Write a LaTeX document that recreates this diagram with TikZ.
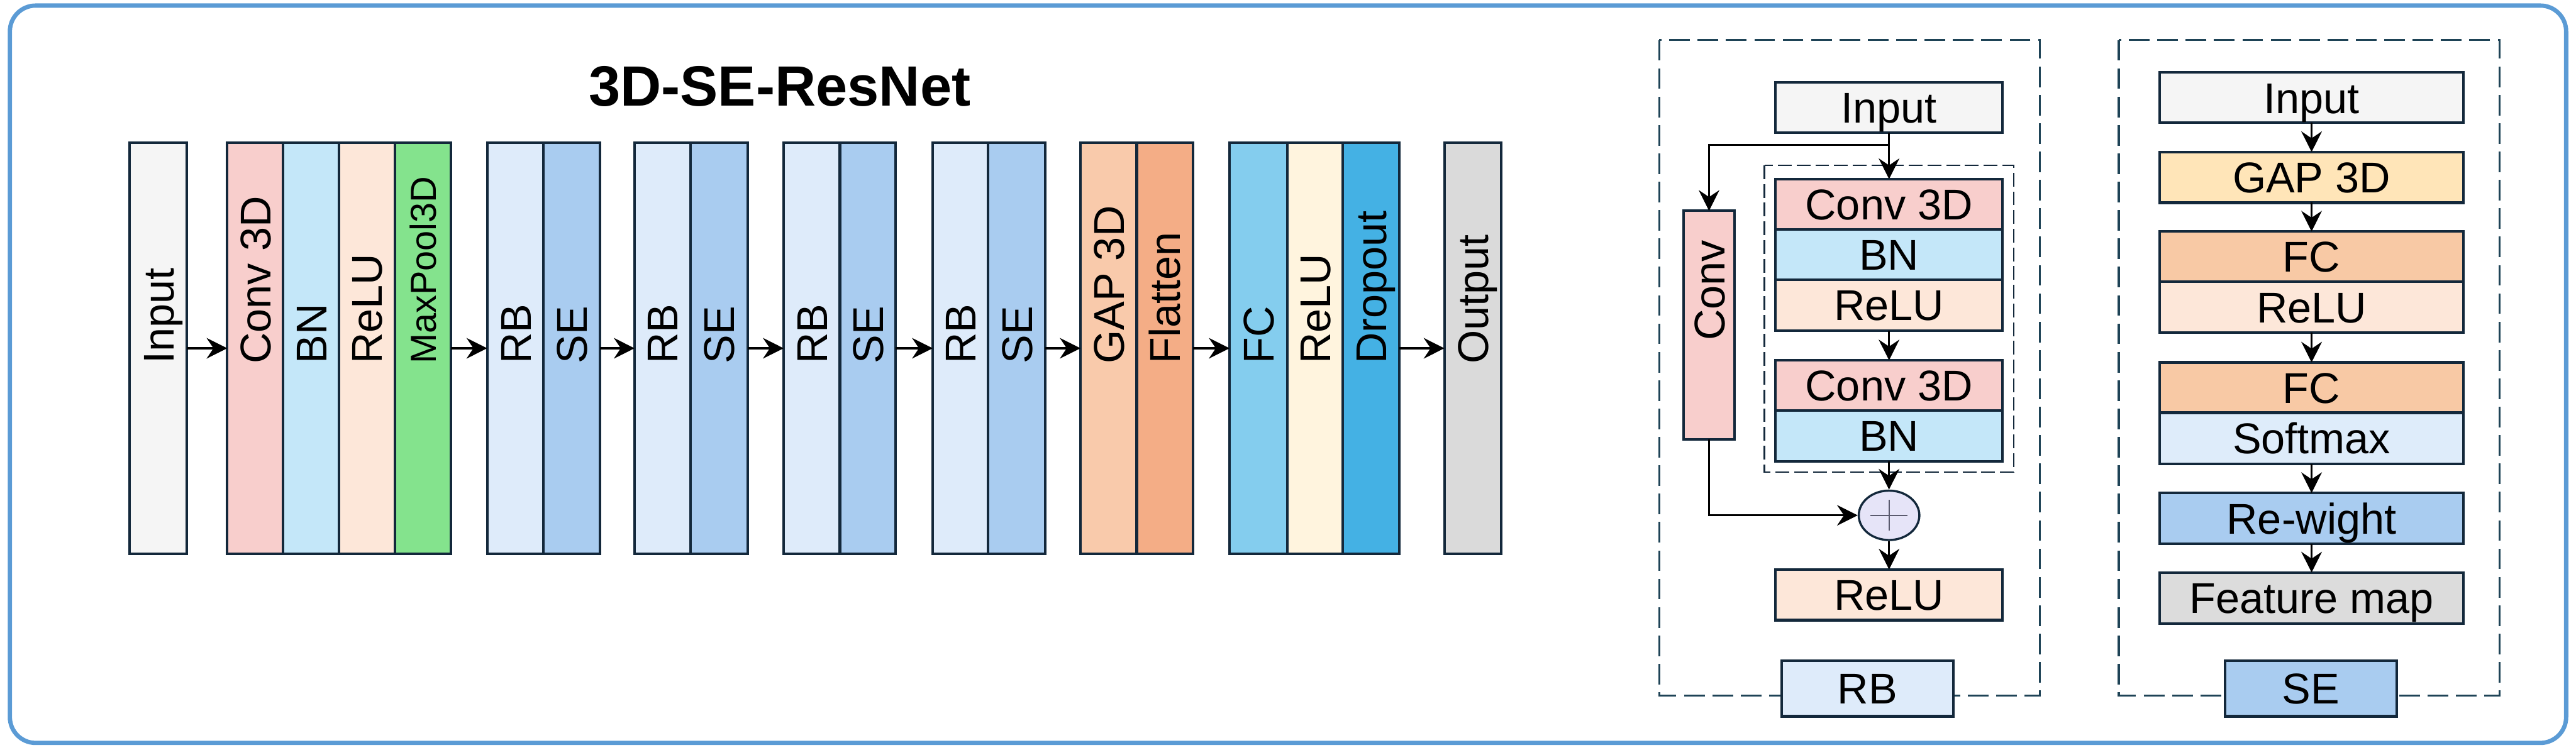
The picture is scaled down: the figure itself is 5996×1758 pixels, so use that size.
\documentclass[tikz,border=0pt]{standalone}
\usepackage{fontspec}
\usepackage{graphicx}
\setmainfont{Liberation Sans}
\usetikzlibrary{arrows.meta,calc,shapes.geometric}
\definecolor{cInput}{HTML}{F5F5F5}
\definecolor{cConv}{HTML}{F8CECC}
\definecolor{cBN}{HTML}{C4E7F9}
\definecolor{cRelu}{HTML}{FDE7D9}
\definecolor{cPool}{HTML}{84E38D}
\definecolor{cRB}{HTML}{DEEBFA}
\definecolor{cSE}{HTML}{A9CCF0}
\definecolor{cGap}{HTML}{F9CAAB}
\definecolor{cFlat}{HTML}{F4AD86}
\definecolor{cFC}{HTML}{84CDEE}
\definecolor{cReluB}{HTML}{FFF4DE}
\definecolor{cDrop}{HTML}{44B1E4}
\definecolor{cOut}{HTML}{DADADA}
\definecolor{cGapB}{HTML}{FFE5B8}
\definecolor{cFCB}{HTML}{F8C9A5}
\definecolor{cSoft}{HTML}{DEECFA}
\definecolor{cFeat}{HTML}{DCDCDC}
\definecolor{cLine}{HTML}{13283B}
\definecolor{cDash}{HTML}{1E4356}
\definecolor{cOuter}{HTML}{5B9BD5}
\definecolor{cPlus}{HTML}{E6E4F8}
\definecolor{cPlusLine}{HTML}{5A5A6E}
\newcommand{\vt}[1]{\rotatebox{90}{\raisebox{0pt}[0.72cm][0pt]{#1}}}
\newcommand{\mybox}[7]{%
  \pgfmathsetmacro\cx{(#3+#5)/2}\pgfmathsetmacro\cy{(#4+#6)/2}%
  \pgfmathsetmacro\ww{(#5-#3)/100}\pgfmathsetmacro\hh{(#6-#4)/100}%
  \node[blk,fill=#2,minimum width=\ww cm,minimum height=\hh cm] (#1) at (\cx,\cy) {#7};}
\begin{document}
\begin{tikzpicture}[x=0.01cm,y=-0.01cm,
  blk/.style={draw=cLine,line width=0.06cm,inner sep=0pt,outer sep=0pt,
    font=\fontsize{28.5}{30}\selectfont,text height=0.72cm,text depth=0pt},
  arr/.style={draw=black,line width=0.045cm,
    -{Stealth[length=0.48cm,width=0.48cm,inset=0.16cm]}},
  panel/.style={draw=cDash,line width=0.05cm,dash pattern=on 0.48cm off 0.18cm},
  inner/.style={draw=cLine,line width=0.035cm,dash pattern=on 0.32cm off 0.115cm}]
\useasboundingbox (0,0) rectangle (5996,1758);
\draw[cOuter,line width=0.1cm,rounded corners=0.6cm] (23,13) rectangle (5973,1730);
\node[anchor=base,font=\fontsize{37.6}{40}\selectfont\bfseries] (title) at (1815,247) {3D-SE-ResNet};
% main chain
\mybox{inp}{cInput}{302}{332}{435}{1290}{\vt{Input}}
\mybox{conv}{cConv}{529}{332}{659}{1290}{\vt{Conv 3D}}
\mybox{bn}{cBN}{659}{332}{789}{1290}{\vt{BN}}
\mybox{relu}{cRelu}{789}{332}{919}{1290}{\vt{ReLU}}
\mybox{pool}{cPool}{919}{332}{1050}{1290}{\rotatebox{90}{\raisebox{0pt}[0.6cm][0pt]{\fontsize{24}{26}\selectfont MaxPool3D}}}
\mybox{rba}{cRB}{1134}{332}{1265}{1290}{\vt{RB}}
\mybox{sea}{cSE}{1265}{332}{1397}{1290}{\vt{SE}}
\mybox{rbb}{cRB}{1477}{332}{1607}{1290}{\vt{RB}}
\mybox{seb}{cSE}{1607}{332}{1740}{1290}{\vt{SE}}
\mybox{rbc}{cRB}{1824}{332}{1955}{1290}{\vt{RB}}
\mybox{sec}{cSE}{1955}{332}{2085}{1290}{\vt{SE}}
\mybox{rbd}{cRB}{2171}{332}{2300}{1290}{\vt{RB}}
\mybox{sed}{cSE}{2300}{332}{2433}{1290}{\vt{SE}}
\mybox{gap}{cGap}{2515}{332}{2646}{1290}{\vt{GAP 3D}}
\mybox{flat}{cFlat}{2646}{332}{2777}{1290}{\vt{Flatten}}
\mybox{fc}{cFC}{2862}{332}{2996}{1290}{\vt{FC}}
\mybox{relum}{cReluB}{2996}{332}{3126}{1290}{\vt{ReLU}}
\mybox{drop}{cDrop}{3126}{332}{3257}{1290}{\vt{Dropout}}
\mybox{outp}{cOut}{3362}{332}{3494}{1290}{\vt{Output}}
\draw[arr] (inp.east) -- (conv.west);
\draw[arr] (pool.east) -- (rba.west);
\draw[arr] (sea.east) -- (rbb.west);
\draw[arr] (seb.east) -- (rbc.west);
\draw[arr] (sec.east) -- (rbd.west);
\draw[arr] (sed.east) -- (gap.west);
\draw[arr] (flat.east) -- (fc.west);
\draw[arr] (drop.east) -- (outp.west);
% RB panel
\draw[panel] (3862,93) rectangle (4748,1620);
\draw[inner] (4107,385) rectangle (4687,1099);
\mybox{rbin}{cInput}{4133}{192}{4661}{309}{Input}
\mybox{ca}{cConv}{4133}{417}{4661}{535}{Conv 3D}
\mybox{bna}{cBN}{4133}{535}{4661}{651}{BN}
\mybox{relua}{cRelu}{4133}{651}{4661}{770}{ReLU}
\mybox{cb}{cConv}{4133}{839}{4661}{956}{Conv 3D}
\mybox{bnb}{cBN}{4133}{956}{4661}{1074}{BN}
\mybox{relub}{cRelu}{4133}{1326}{4661}{1444}{ReLU}
\mybox{convv}{cConv}{3919}{491}{4037}{1023}{\vt{Conv}}
\node[ellipse,draw=cLine,line width=0.05cm,fill=cPlus,inner sep=0pt,
  minimum width=1.41cm,minimum height=1.15cm] (plus) at (4397,1200) {};
\draw[cPlusLine,line width=0.035cm] ($(plus.center)+(-43,0)$) -- ($(plus.center)+(43,0)$);
\draw[cPlusLine,line width=0.035cm] ($(plus.center)+(0,-36)$) -- ($(plus.center)+(0,36)$);
\coordinate (br) at (4397,337);
\draw[arr] (rbin.south) -- (ca.north);
\draw[arr] (br) -| (convv.north);
\draw[arr] (convv.south) |- (plus.west);
\draw[arr] (bnb.south) -- (plus.north);
\draw[arr] (plus.south) -- (relub.north);
\draw[arr] (relua.south) -- (cb.north);
\mybox{rblab}{cRB}{4147}{1538}{4546}{1668}{RB}
% SE panel
\draw[panel] (4932,93) rectangle (5818,1620);
\mybox{sein}{cInput}{5027}{169}{5734}{286}{Input}
\mybox{segap}{cGapB}{5027}{354}{5734}{472}{GAP 3D}
\mybox{sefc}{cFCB}{5027}{539}{5734}{656}{FC}
\mybox{serelu}{cRelu}{5027}{656}{5734}{775}{ReLU}
\mybox{sefcb}{cFCB}{5027}{844}{5734}{961}{FC}
\mybox{sesoft}{cSoft}{5027}{961}{5734}{1080}{Softmax}
\mybox{serew}{cSE}{5027}{1148}{5734}{1266}{Re-wight}
\mybox{sefeat}{cFeat}{5027}{1333}{5734}{1452}{Feature map}
\draw[arr] (sein.south) -- (segap.north);
\draw[arr] (segap.south) -- (sefc.north);
\draw[arr] (serelu.south) -- (sefcb.north);
\draw[arr] (sesoft.south) -- (serew.north);
\draw[arr] (serew.south) -- (sefeat.north);
\mybox{selab}{cSE}{5179}{1538}{5579}{1668}{SE}
\end{tikzpicture}
\end{document}
